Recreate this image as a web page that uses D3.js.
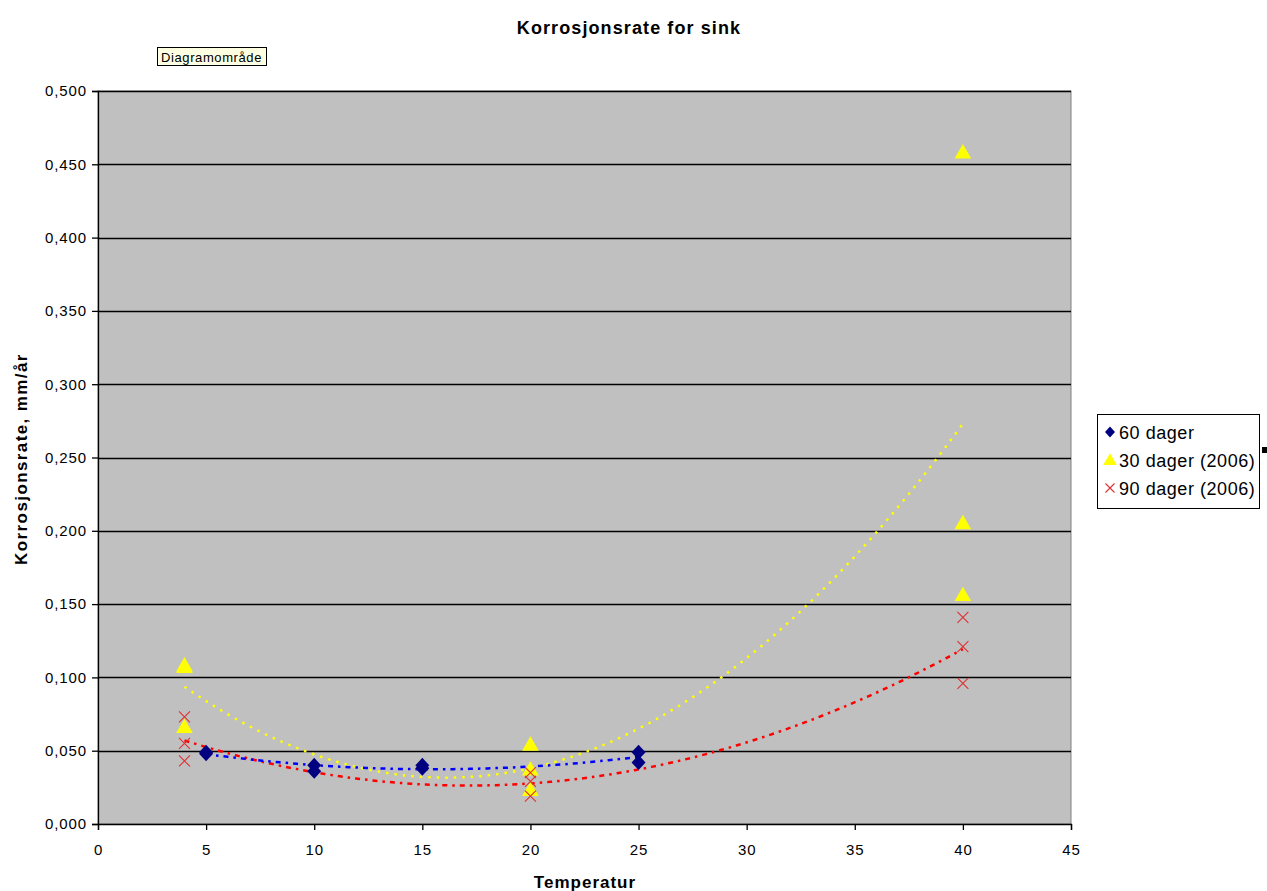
<!DOCTYPE html>
<html>
<head>
<meta charset="utf-8">
<script src="https://cdn.jsdelivr.net/npm/d3@7"></script>
<style>
  body { margin: 0; background: #fff; }
  text { font-family: Arial, "Liberation Sans", sans-serif; }
</style>
</head>
<body>
<svg id="chart" width="1267" height="891"></svg>
<script>
// series data
var seriesNames = ["60 dager", "30 dager (2006)", "90 dager (2006)"];

var x60 = [5, 5, 10, 10, 15, 15, 25, 25];
var y60 = [0.048, 0.049, 0.040, 0.036, 0.040, 0.038, 0.049, 0.042];

var x30 = [4, 4, 4, 20, 20, 20, 40, 40, 40];
var y30 = [0.108, 0.107, 0.066, 0.054, 0.037, 0.023, 0.458, 0.205, 0.156];

var x90 = [4, 4, 4, 20, 20, 20, 40, 40, 40];
var y90 = [0.073, 0.055, 0.043, 0.035, 0.029, 0.019, 0.141, 0.121, 0.096];

var xTicks = [0, 5, 10, 15, 20, 25, 30, 35, 40, 45];
var yTicks = [0, 0.05, 0.1, 0.15, 0.2, 0.25, 0.3, 0.35, 0.4, 0.45, 0.5];

var svg = d3.select("#chart");
var plot = { left: 98, top: 91, right: 1071, bottom: 824 };

var x = d3.scaleLinear().domain([0, 45]).range([plot.left, plot.right]);
var y = d3.scaleLinear().domain([0, 0.5]).range([plot.bottom, plot.top]);

var fmt = d3.formatLocale({ decimal: ",", thousands: " ", grouping: [3], currency: ["", ""] }).format(".3f");

// least squares polynomial, like excel's trendline
function polyfit(xs, ys, order) {
  var n = order + 1, A = [], b = [];
  for (var i = 0; i < n; i++) {
    A.push([]);
    for (var j = 0; j < n; j++) {
      A[i].push(d3.sum(xs, function (v) { return Math.pow(v, i + j); }));
    }
    b.push(d3.sum(xs, function (v, k) { return ys[k] * Math.pow(v, i); }));
  }
  // gauss elimination
  for (var c = 0; c < n; c++) {
    for (var r = c + 1; r < n; r++) {
      var f = A[r][c] / A[c][c];
      for (var k = c; k < n; k++) A[r][k] -= f * A[c][k];
      b[r] -= f * b[c];
    }
  }
  var coef = new Array(n);
  for (var r2 = n - 1; r2 >= 0; r2--) {
    var s = b[r2];
    for (var k2 = r2 + 1; k2 < n; k2++) s -= A[r2][k2] * coef[k2];
    coef[r2] = s / A[r2][r2];
  }
  return function (t) {
    return d3.sum(coef, function (cv, p) { return cv * Math.pow(t, p); });
  };
}

function trendPoints(xs, ys) {
  var fit = polyfit(xs, ys, 2);
  var lo = d3.min(xs), hi = d3.max(xs);
  return d3.range(0, 101).map(function (i) {
    var t = lo + (hi - lo) * i / 100;
    return [t, fit(t)];
  });
}

// title
svg.append("text")
  .attr("x", 629).attr("y", 34)
  .attr("text-anchor", "middle")
  .style("font-size", "18px").style("font-weight", "bold")
  .style("letter-spacing", "1.1px")
  .text("Korrosjonsrate for sink");

// tooltip left over from excel
svg.append("rect")
  .attr("x", 157.5).attr("y", 47.5).attr("width", 109).attr("height", 18)
  .attr("fill", "#ffffe1").attr("stroke", "#000");
svg.append("text")
  .attr("x", 161).attr("y", 61.5)
  .style("font-size", "13px").style("letter-spacing", "0.6px")
  .text("Diagramområde");

// plot area
svg.append("rect")
  .attr("x", plot.left).attr("y", plot.top)
  .attr("width", plot.right - plot.left).attr("height", plot.bottom - plot.top)
  .attr("fill", "#c0c0c0").attr("stroke", "#808080");

// gridlines
svg.append("g").selectAll("line")
  .data(yTicks.slice(1))
  .enter().append("line")
  .attr("x1", plot.left).attr("x2", plot.right)
  .attr("y1", function (d) { return Math.round(y(d)) + 0.5; })
  .attr("y2", function (d) { return Math.round(y(d)) + 0.5; })
  .attr("stroke", "#000").attr("stroke-width", 1.3);

// axes
var yAxis = svg.append("g")
  .attr("transform", "translate(" + plot.left + ",0)")
  .call(d3.axisLeft(y).tickValues(yTicks).tickFormat(fmt).tickSize(6).tickPadding(5));
var xAxis = svg.append("g")
  .attr("transform", "translate(0," + plot.bottom + ")")
  .call(d3.axisBottom(x).tickValues(xTicks).tickSize(6).tickPadding(14));
[xAxis, yAxis].forEach(function (a) {
  a.select(".domain").attr("stroke", "#000").attr("stroke-width", 1.3);
  a.selectAll(".tick line").attr("stroke", "#000").attr("stroke-width", 1.3);
  a.selectAll("text").style("font-size", "15px").attr("fill", "#000")
    .style("letter-spacing", "0.9px")
    .style("font-family", "Arial, 'Liberation Sans', sans-serif");
});

// axis titles
svg.append("text")
  .attr("x", 585).attr("y", 888)
  .attr("text-anchor", "middle")
  .style("font-size", "17px").style("font-weight", "bold")
  .style("letter-spacing", "1px")
  .text("Temperatur");
svg.append("text")
  .attr("transform", "translate(27,459) rotate(-90)")
  .attr("text-anchor", "middle")
  .style("font-size", "17px").style("font-weight", "bold")
  .style("letter-spacing", "1.4px")
  .text("Korrosjonsrate, mm/år");

// trendlines
var line = d3.line()
  .x(function (d) { return x(d[0]); })
  .y(function (d) { return y(d[1]); });

var trends = [
  { pts: trendPoints(x30, y30), color: "#ffff00", dash: "2.5,6" },
  { pts: trendPoints(x90, y90), color: "#ff0000", dash: "5,5,2.5,5" },
  { pts: trendPoints(x60, y60), color: "#0000ff", dash: "5,5,2.5,5" }
];
svg.append("g").selectAll("path")
  .data(trends)
  .enter().append("path")
  .attr("d", function (d) { return line(d.pts); })
  .attr("fill", "none")
  .attr("stroke", function (d) { return d.color; })
  .attr("stroke-width", 2.5)
  .attr("stroke-dasharray", function (d) { return d.dash; });

// markers
var diamondPath = "M0,-7.5L7,0L0,7.5L-7,0Z";
var triangle = d3.symbol().type(d3.symbolTriangle).size(120);
var crossPath = "M-5.5,-5.5L5.5,5.5M-5.5,5.5L5.5,-5.5";

function drawDiamonds(g, xs, ys) {
  g.selectAll("path").data(xs).enter().append("path")
    .attr("d", diamondPath)
    .attr("transform", function (d, i) { return "translate(" + x(d) + "," + y(ys[i]) + ")"; })
    .attr("fill", "#000080");
}
function drawTriangles(g, xs, ys) {
  g.selectAll("path").data(xs).enter().append("path")
    .attr("d", triangle)
    .attr("transform", function (d, i) { return "translate(" + x(d) + "," + (y(ys[i]) + 1) + ")"; })
    .attr("fill", "#ffff00");
}
function drawCrosses(g, xs, ys) {
  g.selectAll("path").data(xs).enter().append("path")
    .attr("d", crossPath)
    .attr("transform", function (d, i) { return "translate(" + x(d) + "," + y(ys[i]) + ")"; })
    .attr("stroke", "#e03030").attr("stroke-width", 1.1).attr("fill", "none");
}

drawDiamonds(svg.append("g"), x60, y60);
drawTriangles(svg.append("g"), x30, y30);
drawCrosses(svg.append("g"), x90, y90);

// legend
var leg = svg.append("g").attr("transform", "translate(1097,414)");
leg.append("rect")
  .attr("x", 0.5).attr("y", 0.5).attr("width", 162).attr("height", 94)
  .attr("fill", "#fff").attr("stroke", "#000");
var rows = leg.selectAll(".row").data(seriesNames)
  .enter().append("g")
  .attr("class", "row")
  .attr("transform", function (d, i) { return "translate(0," + (18 + i * 28) + ")"; });
rows.append("text")
  .attr("x", 22).attr("y", 6.5)
  .style("font-size", "18px").style("letter-spacing", "0.55px")
  .text(function (d) { return d; });
rows.filter(function (d, i) { return i === 0; }).append("path")
  .attr("d", "M0,-5.5L5,0L0,5.5L-5,0Z")
  .attr("transform", "translate(13,0)").attr("fill", "#000080");
rows.filter(function (d, i) { return i === 1; }).append("path")
  .attr("d", d3.symbol().type(d3.symbolTriangle).size(80))
  .attr("transform", "translate(13,1)").attr("fill", "#ffff00");
rows.filter(function (d, i) { return i === 2; }).append("path")
  .attr("d", "M-4.5,-4.5L4.5,4.5M-4.5,4.5L4.5,-4.5")
  .attr("transform", "translate(13,0)")
  .attr("stroke", "#e03030").attr("stroke-width", 1.1);

// selection handle next to the legend
svg.append("rect")
  .attr("x", 1262).attr("y", 447).attr("width", 5).attr("height", 6)
  .attr("fill", "#000");
</script>
</body>
</html>
